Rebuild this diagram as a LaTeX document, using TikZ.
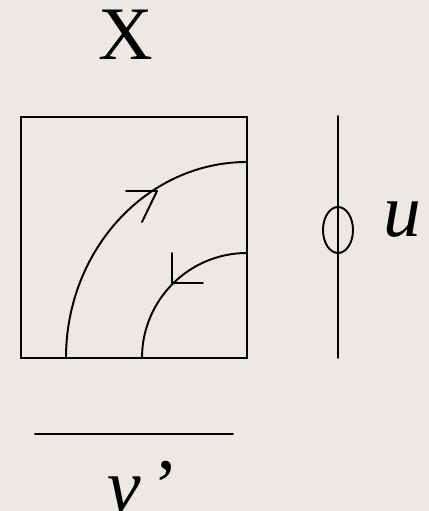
\documentclass[tikz,border=0pt]{standalone}
\usepackage{fontspec}
\setmainfont{Liberation Serif}
\definecolor{paper}{RGB}{236,232,228}

\begin{document}
\begin{tikzpicture}[line cap=round,line join=round,every node/.style={inner sep=0pt},
  stroke/.style={line width=1.1pt},
  big label/.style={font=\fontsize{43}{50}\selectfont,anchor=base}]
  \fill[paper] (0,0) rectangle (8.58,10.22);
  \useasboundingbox (0,0) rectangle (8.58,10.22);
  \node[big label] (x) at (2.52,9.02) {X};
  \draw[stroke,line join=miter] (0.42,3.06) rectangle (4.94,7.88);
  \coordinate (corner) at (4.94,3.06);
  \draw[stroke] (1.32,3.06) arc[start angle=180,end angle=90,x radius=3.62,y radius=3.92];
  \draw[stroke] (2.84,3.06) arc[start angle=180,end angle=90,radius=2.10];
  \coordinate (outer tip) at (3.14,6.40);
  \coordinate (inner tip) at (3.44,4.56);
  \draw[stroke] (2.52,6.40) -- (outer tip) -- (2.84,5.78);
  \draw[stroke] (3.44,5.16) -- (inner tip) -- (4.06,4.56);
  \draw[stroke] (6.76,7.90) -- (6.76,3.06);
  \draw[stroke] (6.76,5.62) ellipse[x radius=0.30,y radius=0.46];
  \node[big label] (u) at (8.04,5.48) {\textit{u}};
  \draw[stroke] (0.70,1.54) -- (4.66,1.54);
  \node[big label] (v) at (2.86,0.0) {\textit{v}\,’};
\end{tikzpicture}
\end{document}
